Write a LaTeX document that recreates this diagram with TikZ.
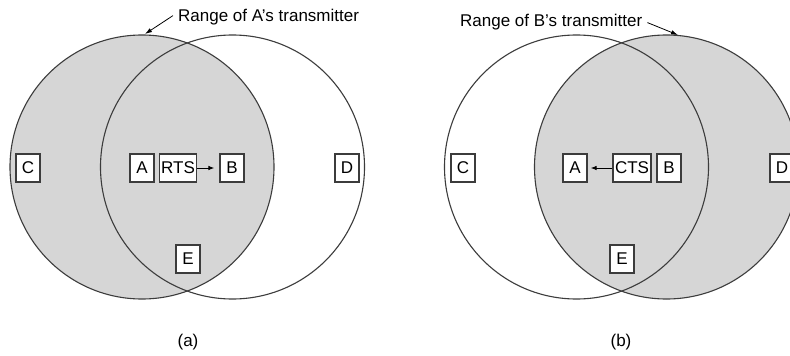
\documentclass[tikz,border=0pt]{standalone}
\usepackage{fontspec}
\setmainfont{Liberation Sans}
\usetikzlibrary{arrows.meta}
\definecolor{shadegray}{RGB}{214,214,214}
\definecolor{linegray}{RGB}{60,60,60}
\begin{document}
\begin{tikzpicture}[x=1pt,y=-1pt,
  font=\fontsize{17}{20}\selectfont,
  rangecircle/.style={draw=linegray, line width=1.1pt},
  station/.style={draw=linegray, line width=1.2pt, fill=white, minimum width=24pt,
    minimum height=28pt, inner xsep=2pt, inner ysep=0pt},
  msgarrow/.style={draw=black, line width=0.9pt, -{Latex[length=6pt,width=4.5pt]}},
  labelarrow/.style={draw=black, line width=0.8pt, -{Latex[length=7pt,width=4.5pt]}},
  txt/.style={inner sep=0pt}
]
\clip (0,0) rectangle (790,356);
\fill[white] (0,0) rectangle (790,356);
% ---------- panel (a) ----------
\fill[shadegray] (142,167) circle[radius=132pt];
\draw[rangecircle] (142,167) circle[radius=132pt];
\draw[rangecircle] (232.5,167) circle[radius=132pt];
\node[station] (aC) at (28,168) {C};
\node[station] (aA) at (142,168) {A};
\node[station] (aRTS) at (178,168) {RTS};
\node[station] (aB) at (232,168) {B};
\node[station] (aD) at (347,168) {D};
\node[station] (aE) at (188,259) {E};
\draw[msgarrow, shorten >=5pt] (aRTS.east) -- (aB.west);
\node[txt, anchor=base west] (la) at (178,21) {Range of A’s transmitter};
\coordinate (ta) at (145,34);
\draw[labelarrow] ([xshift=-5pt,yshift=1pt]la.west) -- (ta);
\node[txt] (capa) at (188,342) {(a)};
% ---------- panel (b) ----------
\fill[shadegray] (666.5,167) circle[radius=132pt];
\draw[rangecircle] (576.5,167) circle[radius=132pt];
\draw[rangecircle] (666.5,167) circle[radius=132pt];
\node[station] (bC) at (463,168) {C};
\node[station] (bA) at (575,168) {A};
\node[station] (bCTS) at (632,168) {CTS};
\node[station] (bB) at (669,168) {B};
\node[station] (bD) at (782,168) {D};
\node[station] (bE) at (622,259) {E};
\draw[msgarrow, shorten >=3pt] (bCTS.west) -- (bA.east);
\node[txt, anchor=base west] (lb) at (460,27) {Range of B’s transmitter};
\coordinate (tb) at (678,35);
\draw[labelarrow] ([xshift=5pt]lb.east) -- (tb);
\node[txt] (capb) at (621,342) {(b)};
\end{tikzpicture}
\end{document}
